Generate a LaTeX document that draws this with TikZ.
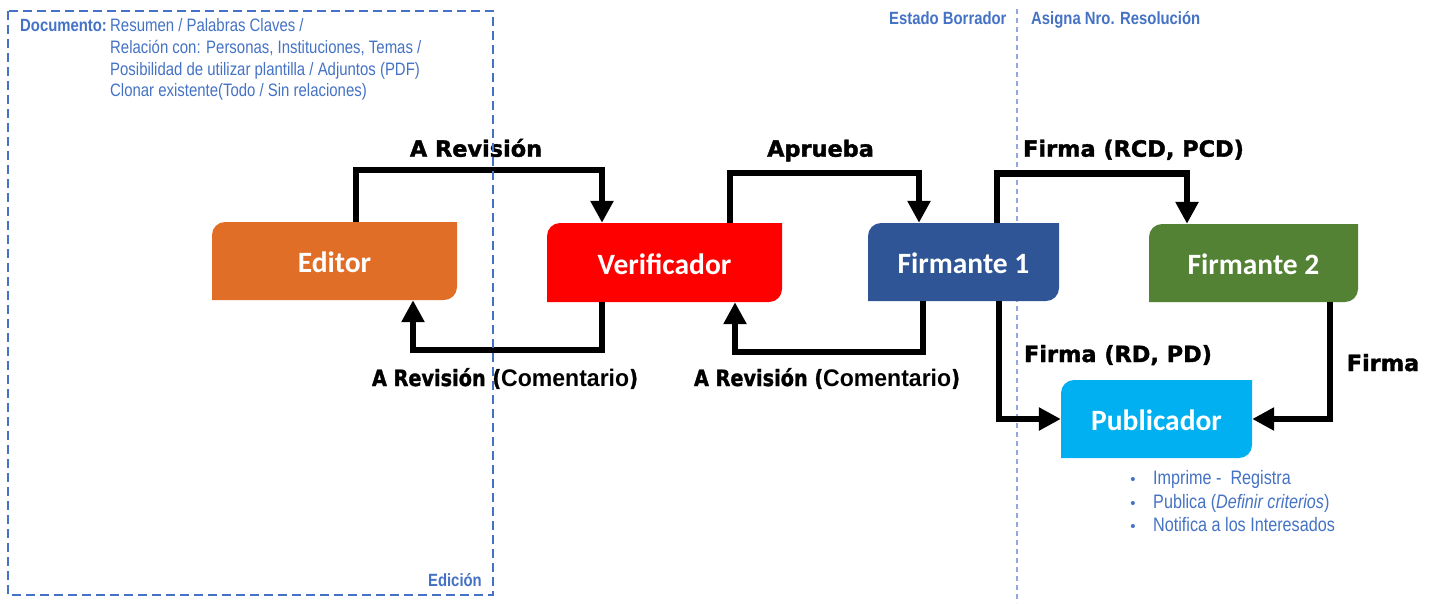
\documentclass[tikz,border=0pt]{standalone}
\usepackage{fontspec}
\setmainfont{Liberation Sans}
\newfontfamily\boxfam{Carlito}
\newfontface\lblfam{DejaVu Sans Bold}[FakeBold=1.6]
\newfontface\comfam{Liberation Sans Bold}
\usetikzlibrary{arrows.meta}
\definecolor{edorange}{RGB}{225,110,38}
\definecolor{verred}{RGB}{255,0,0}
\definecolor{fablue}{RGB}{47,85,151}
\definecolor{fbgreen}{RGB}{84,130,53}
\definecolor{pubcyan}{RGB}{0,176,240}
\definecolor{noteblue}{RGB}{68,114,196}
\definecolor{lightline}{RGB}{143,170,220}
\newcommand{\nar}[1]{\scalebox{0.83}[1]{#1}}
\newcommand{\narb}[1]{\scalebox{0.84}[1]{#1}}
\begin{document}
\begin{tikzpicture}[x=1pt,y=-1pt,
  stage/.style={draw=none, fill=none, minimum height=78pt, inner sep=0pt, text=white,
    text height=23pt, text depth=0pt,
    font=\boxfam\bfseries\fontsize{29.5}{33}\selectfont,
    path picture={\fill[#1] ([yshift=-13pt]path picture bounding box.north west)
      arc[start angle=180,end angle=90,radius=13pt]
      -- (path picture bounding box.north east)
      -- ([yshift=13pt]path picture bounding box.south east)
      arc[start angle=0,end angle=-90,radius=13pt]
      -- (path picture bounding box.south west) -- cycle;}},
  flow/.style={line width=6.5pt, -{Triangle[length=22pt,width=22pt]}},
  lbl/.style={font=\lblfam\fontsize{22.4}{26}\selectfont, anchor=base, inner sep=0pt},
  note/.style={text=noteblue, font=\fontsize{18}{21}\selectfont, anchor=base west, inner sep=0pt},
  bnote/.style={text=noteblue, font=\fontsize{19.5}{23}\selectfont, anchor=base west, inner sep=0pt},
  notebold/.style={text=noteblue, font=\bfseries\fontsize{17.7}{21}\selectfont, anchor=base west, inner sep=0pt},
  bul/.style={text=noteblue, font=\fontsize{15}{17}\selectfont, anchor=base, inner sep=0pt},
]
\useasboundingbox (0,0) rectangle (1437,603);

% light separator
\draw[lightline, line width=1.3pt, dash pattern=on 5pt off 4pt] (1017,9) -- (1017,603);

% stages
\node[stage=edorange, minimum width=245pt] (ed) at (334.5,261) {Editor};
\node[stage=verred, minimum width=235pt, minimum height=79pt] (ver) at (664.5,262.5) {Verificador};
\node[stage=fablue, minimum width=191pt] (fa) at (963.5,262) {Firmante 1};
\node[stage=fbgreen, minimum width=209pt] (fb) at (1253.5,263) {Firmante 2};
\node[stage=pubcyan, minimum width=191pt] (pub) at (1156.5,419) {Publicador};

% connectors
\draw[flow] ([xshift=21.5pt]ed.north) -- ++(0,-52) -| ([xshift=-62.5pt]ver.north);
\draw[flow] ([xshift=-62.5pt]ver.south) -- ++(0,48) -| ([xshift=78.5pt]ed.south);
\draw[flow] ([xshift=65.5pt]ver.north) -- ++(0,-50) -| ([xshift=-44.5pt]fa.north);
\draw[flow] ([xshift=-40.5pt]fa.south) -- ++(0,51) -| ([xshift=70.5pt]ver.south);
\draw[flow] ([xshift=33.5pt]fa.north) -- ++(0,-49.5) -| ([xshift=-66.5pt]fb.north);
\draw[flow] ([xshift=35.5pt]fa.south) |- (pub.west);
\draw[flow] ([xshift=76.5pt]fb.south) |- (pub.east);

% connector labels
\node[lbl] (l1) at (476,156.7) {A Revisión};
\node[lbl] (l2) at (820.5,156.7) {Aprueba};
\node[lbl] (l3) at (1133.5,156.7) {Firma (RCD, PCD)};
\node[lbl] (l4) at (505,386) {\scalebox{0.86}[1]{A Revisión (}{\comfam\fontsize{24}{28}\selectfont\scalebox{0.96}[1]{Comentario}}\scalebox{0.86}[1]{)}};
\node[lbl] (l5) at (827,386) {\scalebox{0.86}[1]{A Revisión (}{\comfam\fontsize{24}{28}\selectfont\scalebox{0.96}[1]{Comentario}}\scalebox{0.86}[1]{)}};
\node[lbl] (l6) at (1118,362) {Firma (RD, PD)};
\node[lbl] (l7) at (1383,371) {Firma};

% notes
\node[notebold] (doc) at (20,31.5) {\narb{Documento:}};
\node[note] (d1) at (110,31.5) {\nar{Resumen / Palabras Claves /}};
\node[note] (d2) at (110,53) {\nar{Relación con: Personas, Instituciones, Temas /}};
\node[note] (d3) at (110,75) {\nar{Posibilidad de utilizar plantilla / Adjuntos (PDF)}};
\node[note] (d4) at (110,96.5) {\nar{Clonar existente(Todo / Sin relaciones)}};
\node[notebold, anchor=base east] (edi) at (482,586) {\narb{Edición}};
\node[notebold] (eb) at (889,24.3) {\narb{Estado Borrador}};
\node[notebold] (ar) at (1031,24.3) {\narb{Asigna Nro. Resolución}};

\node[bul] (p1) at (1133,484) {•};
\node[bul] (p2) at (1133,508) {•};
\node[bul] (p3) at (1133,531.5) {•};
\node[bnote] (t1) at (1153,484) {\nar{Imprime -~ Registra}};
\node[bnote] (t2) at (1153,508) {\nar{Publica (\textit{Definir criterios})}};
\node[bnote] (t3) at (1153,531.5) {\nar{Notifica a los Interesados}};

% edition frame
\draw[noteblue, line width=2.5pt, dash pattern=on 9pt off 5pt] (8,11) rectangle (493,595);
\end{tikzpicture}
\end{document}
